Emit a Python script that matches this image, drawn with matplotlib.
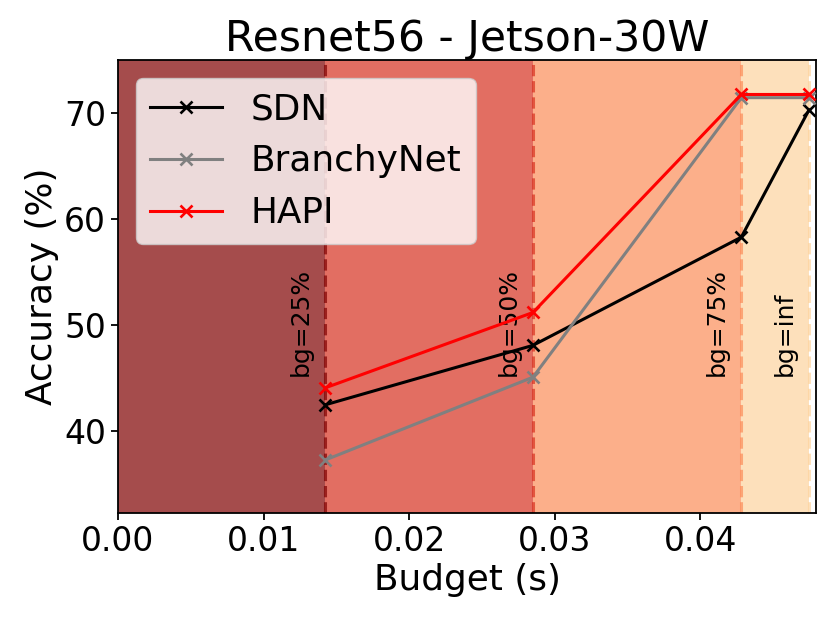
import numpy as np
import matplotlib
matplotlib.use("Agg")
import matplotlib.pyplot as plt

# budgets (s) for each budget level
budget_labels = ["bg=25%", "bg=50%", "bg=75%", "bg=inf"]
budgets = [0.01424, 0.02850, 0.04281, 0.04746]
zone_colors = ["#7f0000", "#d7301f", "#fc8d59", "#fdd49e"]

sdn = [42.5, 48.1, 58.3, 70.3]
branchy = [37.3, 45.1, 71.45, 71.45]
hapi = [44.1, 51.2, 71.75, 71.75]

fig = plt.figure(figsize=(8.31, 6.2), dpi=100)
ax = fig.add_axes([118/831, 1-513/620, (816-118)/831, (513-60)/620])

left = 0
for b, c, lab in zip(budgets, zone_colors, budget_labels):
    ax.axvspan(left, b, color=c, alpha=0.7, lw=0, zorder=0)
    ax.axvline(b, color=c, alpha=0.7, ls="--", lw=2.2, zorder=1)
    ax.text(b - 0.00168, 45.2, lab, rotation=90, ha="center", va="bottom",
            fontsize=18, zorder=2)
    left = b

ax.plot(budgets, sdn, color="black", marker="x", ms=9, mew=1.9, lw=2.2, label="SDN", zorder=3)
ax.plot(budgets, branchy, color="grey", marker="x", ms=9, mew=1.9, lw=2.2, label="BranchyNet", zorder=3)
ax.plot(budgets, hapi, color="red", marker="x", ms=9, mew=1.9, lw=2.2, label="HAPI", zorder=3)

ax.set_xlim(0, 0.04794)
ax.set_ylim(32.3, 75.0)
ax.set_xticks([0.0, 0.01, 0.02, 0.03, 0.04])
ax.set_yticks([40, 50, 60, 70])
ax.tick_params(labelsize=23.8, width=1.3, length=5)
for s in ax.spines.values():
    s.set_linewidth(1.3)

ax.set_xlabel("Budget (s)", fontsize=25.8)
ax.set_ylabel("Accuracy (%)", fontsize=25.8)
ax.set_title("Resnet56 - Jetson-30W", fontsize=30.6)
ax.legend(loc="upper left", fontsize=25.8)

fig.savefig("out.png", dpi=100)
